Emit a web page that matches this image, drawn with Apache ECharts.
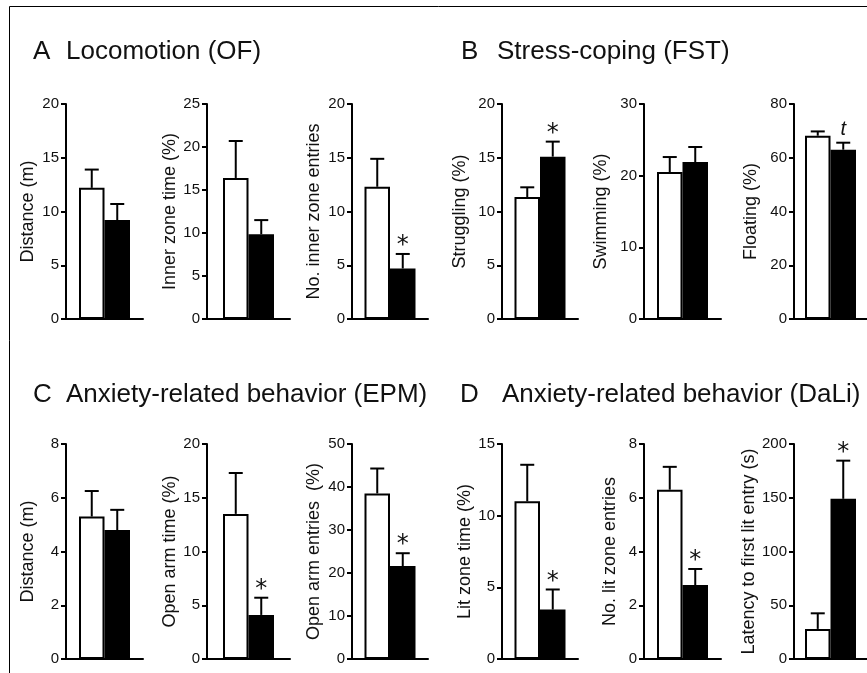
<!DOCTYPE html>
<html>
<head>
<meta charset="utf-8">
<script src="https://cdn.jsdelivr.net/npm/echarts@6/dist/echarts.min.js"></script>
<style>
html,body{margin:0;padding:0;background:#fff;}
#chart{width:867px;height:673px;}
</style>
</head>
<body>
<div id="chart"></div>
<script>
// ---- data ----
const panelLetters = ['A', 'B', 'C', 'D'];
const panelTitles = ['Locomotion (OF)', 'Stress-coping (FST)', 'Anxiety-related behavior (EPM)', 'Anxiety-related behavior (DaLi)'];
const yNames = ['Distance (m)', 'Inner zone time (%)', 'No. inner zone entries', 'Struggling (%)', 'Swimming (%)', 'Floating (%)',
                'Distance (m)', 'Open arm time (%)', 'Open arm entries  (%)', 'Lit zone time (%)', 'No. lit zone entries', 'Latency to first lit entry (s)'];
const yMax  = [20, 25, 20, 20, 30, 80, 8, 20, 50, 15, 8, 200];
const yStep = [5, 5, 5, 5, 10, 20, 2, 5, 10, 5, 2, 50];
const ctrlMean = [12.2, 16.4, 12.3, 11.35, 20.5, 68.2, 5.3, 13.5, 38.5, 11.0, 6.3, 28];
const ctrlSem  = [1.7, 4.3, 2.6, 0.9, 2.1, 1.6, 0.95, 3.8, 5.8, 2.55, 0.85, 14.5];
const mutMean  = [9.2, 9.85, 4.7, 15.1, 21.9, 63.0, 4.8, 4.1, 21.6, 3.45, 2.75, 149];
const mutSem   = [1.5, 1.65, 1.35, 1.4, 2.1, 2.6, 0.75, 1.6, 3.0, 1.4, 0.6, 35.5];
const marks    = ['', '', '*', '*', '', 't', '', '*', '*', '*', '*', '*'];

// ---- layout ----
const gridLeft  = [66, 207, 352, 502, 644, 794];
const gridWidth = [77, 83, 76, 76, 77, 78];
const rowTop = [104, 444];
const gridH = 215;
const nameGaps = [29, 28, 29, 33, 34, 34, 29, 28, 29, 26, 25, 34];
const BW = 25.5;
const FONT = '"Liberation Sans", Arial, sans-serif';
const INK = '#111';

const grids = [], xAxes = [], yAxes = [], series = [];
for (let i = 0; i < 12; i++) {
  const r = Math.floor(i / 6), c = i % 6;
  grids.push({left: gridLeft[c], top: rowTop[r], width: gridWidth[c], height: gridH, containLabel: false});
  xAxes.push({
    type: 'category', gridIndex: i, data: [''], boundaryGap: true,
    axisLine: {lineStyle: {color: '#000', width: 2}},
    axisTick: {show: false}, axisLabel: {show: false}, splitLine: {show: false}
  });
  yAxes.push({
    type: 'value', gridIndex: i, min: 0, max: yMax[i], interval: yStep[i],
    name: yNames[i], nameLocation: 'middle', nameGap: nameGaps[i],
    nameTextStyle: {fontFamily: FONT, fontSize: 18, color: INK},
    axisLine: {show: true, lineStyle: {color: '#000', width: 2}},
    axisTick: {show: true, length: 5, lineStyle: {color: '#000', width: 2}},
    axisLabel: {fontFamily: FONT, fontSize: 15, color: INK, margin: 7},
    splitLine: {show: false}
  });
  series.push({
    type: 'bar', xAxisIndex: i, yAxisIndex: i, barWidth: BW, barGap: '0%',
    data: [ctrlMean[i]], itemStyle: {color: '#fff', borderColor: '#000', borderWidth: 2},
    animation: false, silent: true
  });
  series.push({
    type: 'bar', xAxisIndex: i, yAxisIndex: i, barWidth: BW, barGap: '0%',
    data: [mutMean[i]], itemStyle: {color: '#000', borderColor: '#000', borderWidth: 2},
    animation: false, silent: true
  });
  const idx = i;
  series.push({
    type: 'custom', xAxisIndex: i, yAxisIndex: i, animation: false, silent: true, z: 5,
    data: [[0, ctrlMean[i], ctrlSem[i], -1], [0, mutMean[i], mutSem[i], 1]],
    renderItem: function (params, api) {
      const base = api.coord([0, api.value(1)]);
      const top = api.coord([0, api.value(1) + api.value(2)]);
      const cx = base[0] + api.value(3) * BW / 2;
      const children = [
        {type: 'line', shape: {x1: cx, y1: base[1], x2: cx, y2: top[1]}, style: {stroke: '#000', lineWidth: 2}},
        {type: 'line', shape: {x1: cx - 7, y1: top[1], x2: cx + 7, y2: top[1]}, style: {stroke: '#000', lineWidth: 2}}
      ];
      if (params.dataIndex === 1 && marks[idx]) {
        const isT = marks[idx] === 't';
        children.push({
          type: 'text',
          style: {
            text: marks[idx], x: cx, y: top[1] + (isT ? -3 : 4),
            align: 'center', verticalAlign: 'bottom',
            font: isT ? 'italic 20px ' + FONT : '24px "DejaVu Sans", sans-serif',
            fill: INK
          }
        });
      }
      return {type: 'group', children: children};
    }
  });
}

const titleX = [[33, 66], [461, 497], [33, 66], [460, 502]];
const titleY = [52, 395];
const graphics = [{
  type: 'rect', shape: {x: 9.5, y: 6.5, width: 1200, height: 1200},
  style: {fill: 'none', stroke: '#000', lineWidth: 1}, silent: true
}];
for (let p = 0; p < 4; p++) {
  const y = titleY[Math.floor(p / 2)];
  graphics.push({type: 'text', x: titleX[p][0], y: y,
    style: {text: panelLetters[p], font: '26px ' + FONT, fill: INK, verticalAlign: 'middle'}});
  graphics.push({type: 'text', x: titleX[p][1], y: y,
    style: {text: panelTitles[p], font: '26px ' + FONT, fill: INK, verticalAlign: 'middle'}});
}

const chart = echarts.init(document.getElementById('chart'), null, {renderer: 'canvas'});
chart.setOption({
  animation: false,
  backgroundColor: '#fff',
  grid: grids, xAxis: xAxes, yAxis: yAxes, series: series,
  graphic: graphics
});
</script>
</body>
</html>
